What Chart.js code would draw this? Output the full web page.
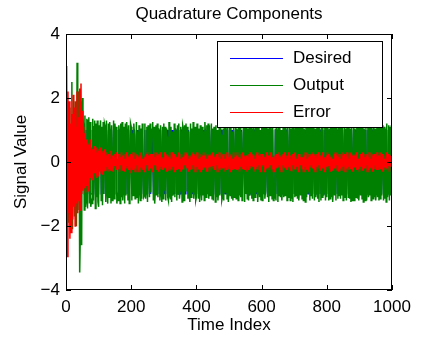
<!DOCTYPE html>
<html lang="en">
<head>
    <meta charset="UTF-8">
    <title>Quadrature Components</title>
    <script src="https://cdn.jsdelivr.net/npm/chart.js"></script>
    <style>
        html, body { margin: 0; padding: 0; background: #fff; }
        canvas { display: block; }
    </style>
</head>
<body>
    <canvas id="quadChart" width="426" height="340"></canvas>
    <script>
        // one sample every 2 time steps
        const step = 2;

        // desired symbols (+1 / -1), 20 per group
        const desiredSigns = [
            '+-++-+---+-++-+--+-+', '+--+-+++-+--+-++-+--', '-+-++-+-+--+++-+-+-+', '+-+--+-++-+--+-+++--', '-++-+-+--+-+-++-+--+',
            '+-+-++--+-+-+--+-++-', '-+--+-++-+-+++-+--+-', '+-++-+--+-+-+-++--+-', '-+-+--+-++-+-+--++-+', '+-+-+++-+--+-+-+--+-',
            '-++-+-+--+-+-++-+-+-', '+--+-+-++-+-+--+-++-', '-+-+-++-+--+-+-+-+--', '+-++-+-+-+--++-+-+-+', '-+--+-+-++-+-+--+-+-',
            '+-+-+--++-+-+-++-+--', '-+-++-+-+-+--+-+-++-', '+--+-+-+-++-+-+-+--+', '-+-+-++-+-+--+-+-+-+', '+-+--+-+-++-+-+--+-+',
            '-++-+-+-+--+-+-++-+-', '+-+-+--+-+-++-+-+-+-', '-+-++-+-+--+-+-+-++-', '+--+-+-+-++-+-+--+-+', '-+-+-++-+-+-+--+-+-+'
        ].join('');

        const outputValues = [
            0.4, -1.2, 1.5, 0.6, -1.9, 1.7, -0.8, -1.6, -1.1, 2.5, -2.1, 1.3, 0.7, -1.7, 1.9, -1.4, -2.0, 3.1, -1.5, 2.2,
            1.6, -3.45, -2.2, 1.9, -2.6, 2.0, 1.4, 1.1, -1.5, 1.45, -1.4, -1.2, 1.35, -1.45, 1.3, 1.4, -1.3, 1.25, -1.4, -1.2,
            -1.3, 1.35, -1.2, 1.1, 1.3, -1.45, 1.2, -1.1, 1.3, -1.25, -1.4, 1.15, 0.9, 1.3, -1.2, 1.1, -1.35, 1.25, -1.0, 1.2,
            1.1, -1.25, 1.3, -0.9, -1.3, 1.2, -1.1, 1.25, 0.85, -1.3, 1.15, -1.2, -0.9, 1.3, -1.15, 1.2, 0.9, 1.1, -1.3, -1.05,
            -1.2, 1.15, 0.9, -1.3, 1.2, -1.1, 1.25, -1.2, -0.85, 1.1, -1.3, 1.2, -1.05, 1.25, 0.9, -1.2, 1.15, -1.3, -0.9, 1.2,
            1.1, -1.2, 0.9, -1.05, 1.2, 0.85, -1.15, -0.9, 1.25, -1.1, 0.95, -1.3, 1.15, -0.9, -1.2, 1.05, -1.15, 1.2, 0.85, -1.1,
            -1.05, 1.2, -1.15, -0.85, 1.1, -1.25, 1.15, 0.9, -1.1, 1.2, -0.95, 1.05, 0.8, 1.25, -1.2, 1.1, -1.3, -0.9, 1.15, -1.05,
            1.2, -1.1, 1.05, 0.85, -1.2, 1.15, -0.95, -1.25, 1.1, -1.15, 1.2, -0.9, 1.1, -1.2, 1.05, 0.8, -1.1, -1.2, 1.25, -1.05,
            -1.15, 1.1, -1.25, 0.95, -1.05, -0.85, 1.2, -1.1, 1.05, 0.9, -1.2, 1.15, -1.0, 1.2, -1.15, -0.9, 1.1, 0.85, -1.25, 1.15,
            1.05, -1.2, 1.15, -0.9, 1.2, 0.85, 1.1, -1.15, 0.95, -1.05, -1.25, 1.2, -1.1, 1.05, -0.95, 1.25, -1.15, -0.85, 1.1, -1.2,
            -1.1, 1.2, 0.9, -1.15, 1.05, -1.25, 1.15, -0.9, -1.2, 1.1, -1.05, 0.95, -1.2, 1.25, 0.85, -1.1, 1.15, -1.0, 1.2, -1.15,
            1.15, -1.05, -0.85, 1.2, -1.15, 1.05, -1.2, 1.1, 0.9, -1.25, 1.15, -1.1, 1.0, -1.2, -0.9, 1.25, -1.05, 1.1, 0.85, -1.2,
            -1.1, 1.05, -1.2, 1.15, -0.95, 1.2, 0.85, -1.15, 1.1, -1.25, -0.9, 1.2, -1.05, 1.1, -1.15, 0.95, -1.2, 1.15, -1.1, -0.85,
            1.2, -1.15, 1.05, 0.9, -1.2, 1.1, -1.05, 1.25, -1.1, 0.95, -1.2, -0.85, 1.15, 0.9, -1.25, 1.1, -1.0, 1.2, -1.15, 1.05,
            -1.2, 1.1, -1.05, -0.9, 1.25, -1.15, 1.05, -1.2, 1.15, 0.85, -1.1, 1.2, -0.95, 1.1, -1.25, -0.85, 1.15, -1.1, 1.0, -1.2,
            1.1, -1.2, 1.15, -1.0, 1.2, -1.15, -0.9, 1.25, 0.85, -1.1, 1.05, -1.25, 1.15, -1.05, 1.2, 0.9, -1.15, 1.1, -1.2, -0.9,
            -1.15, 1.05, -1.2, 1.1, 0.9, -1.25, 1.15, -1.05, 1.2, -1.1, 1.0, -1.2, -0.85, 1.15, -1.1, 1.25, -1.05, 1.1, 0.85, -1.2,
            1.2, -1.1, -0.9, 1.15, -1.2, 1.05, -1.15, 1.1, -1.25, 1.2, 0.85, -1.1, 1.15, -1.05, 1.2, -1.15, 1.1, -1.2, -0.9, 1.15,
            -1.05, 1.2, -1.15, 1.1, -1.2, 1.05, 0.9, -1.25, 1.15, -1.1, 1.2, -1.0, -0.85, 1.1, -1.2, 1.15, -1.05, 1.25, -1.15, 1.1,
            1.15, -1.2, 1.05, -1.1, -0.9, 1.2, -1.15, 1.1, -1.25, 1.05, 0.85, -1.2, 1.15, -1.1, 1.2, -1.05, -0.9, 1.1, -1.2, 1.15,
            -1.1, 1.15, 0.9, -1.2, 1.05, -1.15, 1.2, -1.1, 1.1, -1.25, -0.85, 1.2, -1.05, 1.15, -1.2, 1.1, 0.85, -1.15, 1.2, -1.05,
            1.2, -1.15, 1.1, -1.05, 1.15, -1.2, -0.9, 1.25, -1.1, 1.05, -1.2, 1.15, 0.9, -1.1, 1.2, -1.15, 1.05, -1.25, 1.1, -1.2,
            -1.15, 1.1, -1.2, 1.05, 0.85, -1.1, 1.2, -1.15, 1.1, -1.2, -0.9, 1.15, -1.05, 1.2, -1.15, 1.1, -1.25, 1.05, 0.9, -1.2,
            1.1, -1.2, -0.85, 1.15, -1.1, 1.2, -1.05, 1.15, -1.2, 1.1, 0.9, -1.15, 1.2, -1.1, 1.05, -1.2, -0.9, 1.15, -1.1, 1.2,
            -1.2, 1.1, -1.15, 1.2, -1.05, 1.15, 0.85, -1.2, 1.1, -1.15, 1.05, -1.25, 1.2, -1.1, -0.9, 1.15, -1.2, 1.1, -1.05, 1.15
        ];

        const errorValues = [
            0.4, 3.0, -2.95, 2.2, -1.6, 1.9, -2.4, 1.2, -2.2, 1.5, -1.8, 2.1, -1.4, 1.7, -2.0, 1.1, -1.3, 2.2, -1.6, 1.4,
            -1.2, 2.3, -1.5, 2.45, -1.0, 1.6, -0.9, 1.1, -0.8, 0.9, -0.95, 0.7, -0.75, 0.6, -0.9, 0.55, -0.6, 0.7, -0.5, 0.45,
            -0.55, 0.4, -0.45, 0.5, -0.35, 0.45, -0.5, 0.3, -0.4, 0.35, -0.45, 0.4, -0.3, 0.45, -0.35, 0.3, -0.4, 0.35, -0.3, 0.4,
            -0.25, 0.3, -0.15, 0.2, -0.3, 0.25, -0.2, 0.1, -0.25, 0.35, -0.15, 0.2, -0.3, 0.15, -0.1, 0.25, -0.2, 0.3, -0.25, 0.1,
            -0.2, 0.25, -0.3, 0.15, -0.1, 0.3, -0.25, 0.2, -0.15, 0.1, -0.3, 0.25, -0.2, 0.3, -0.1, 0.15, -0.25, 0.2, -0.35, 0.25,
            -0.15, 0.2, -0.25, 0.3, -0.2, 0.1, -0.3, 0.25, -0.1, 0.2, -0.25, 0.15, -0.3, 0.2, -0.15, 0.3, -0.2, 0.1, -0.25, 0.2,
            -0.3, 0.15, -0.2, 0.25, -0.1, 0.3, -0.25, 0.2, -0.15, 0.25, -0.2, 0.1, -0.3, 0.25, -0.2, 0.15, -0.1, 0.3, -0.25, 0.2,
            -0.1, 0.25, -0.3, 0.2, -0.15, 0.3, -0.2, 0.15, -0.25, 0.1, -0.2, 0.3, -0.15, 0.25, -0.3, 0.2, -0.1, 0.15, -0.25, 0.3,
            -0.2, 0.1, -0.25, 0.3, -0.15, 0.2, -0.3, 0.25, -0.1, 0.15, -0.25, 0.2, -0.2, 0.3, -0.15, 0.1, -0.3, 0.25, -0.2, 0.15,
            -0.25, 0.2, -0.1, 0.3, -0.2, 0.25, -0.15, 0.1, -0.3, 0.2, -0.25, 0.15, -0.2, 0.3, -0.1, 0.25, -0.15, 0.2, -0.3, 0.1,
            -0.15, 0.3, -0.25, 0.1, -0.2, 0.25, -0.3, 0.15, -0.1, 0.2, -0.25, 0.3, -0.15, 0.2, -0.2, 0.1, -0.3, 0.25, -0.15, 0.2,
            -0.3, 0.2, -0.15, 0.25, -0.1, 0.3, -0.2, 0.15, -0.25, 0.2, -0.1, 0.25, -0.3, 0.15, -0.2, 0.3, -0.25, 0.1, -0.15, 0.2,
            -0.2, 0.25, -0.3, 0.1, -0.15, 0.2, -0.25, 0.3, -0.1, 0.15, -0.2, 0.25, -0.3, 0.2, -0.15, 0.1, -0.25, 0.3, -0.2, 0.15,
            -0.1, 0.2, -0.25, 0.3, -0.2, 0.15, -0.3, 0.1, -0.15, 0.25, -0.2, 0.3, -0.1, 0.2, -0.25, 0.15, -0.3, 0.2, -0.1, 0.25,
            -0.25, 0.15, -0.2, 0.3, -0.1, 0.25, -0.15, 0.2, -0.3, 0.1, -0.2, 0.25, -0.15, 0.3, -0.25, 0.2, -0.1, 0.15, -0.3, 0.25,
            -0.15, 0.25, -0.1, 0.2, -0.3, 0.15, -0.25, 0.3, -0.2, 0.1, -0.15, 0.2, -0.25, 0.3, -0.1, 0.25, -0.2, 0.15, -0.3, 0.2,
            -0.3, 0.1, -0.2, 0.25, -0.15, 0.3, -0.1, 0.2, -0.25, 0.15, -0.3, 0.2, -0.1, 0.25, -0.2, 0.3, -0.15, 0.1, -0.25, 0.2,
            -0.2, 0.3, -0.15, 0.1, -0.25, 0.2, -0.3, 0.25, -0.1, 0.15, -0.2, 0.3, -0.25, 0.1, -0.15, 0.2, -0.3, 0.25, -0.2, 0.15,
            -0.1, 0.25, -0.2, 0.15, -0.3, 0.2, -0.15, 0.3, -0.25, 0.1, -0.2, 0.15, -0.3, 0.25, -0.1, 0.2, -0.15, 0.3, -0.2, 0.25,
            -0.25, 0.2, -0.3, 0.1, -0.15, 0.25, -0.2, 0.3, -0.1, 0.15, -0.25, 0.2, -0.15, 0.3, -0.2, 0.1, -0.3, 0.15, -0.25, 0.2,
            -0.15, 0.3, -0.1, 0.25, -0.2, 0.15, -0.3, 0.2, -0.25, 0.1, -0.15, 0.25, -0.2, 0.3, -0.1, 0.2, -0.25, 0.15, -0.3, 0.25,
            -0.2, 0.1, -0.25, 0.3, -0.15, 0.2, -0.1, 0.25, -0.3, 0.15, -0.2, 0.3, -0.25, 0.1, -0.15, 0.25, -0.2, 0.3, -0.1, 0.2,
            -0.3, 0.25, -0.15, 0.2, -0.1, 0.3, -0.25, 0.15, -0.2, 0.1, -0.3, 0.25, -0.15, 0.2, -0.25, 0.3, -0.1, 0.15, -0.2, 0.25,
            -0.1, 0.2, -0.3, 0.15, -0.25, 0.3, -0.2, 0.1, -0.15, 0.25, -0.3, 0.2, -0.1, 0.25, -0.2, 0.15, -0.25, 0.3, -0.15, 0.2,
            -0.25, 0.15, -0.2, 0.3, -0.1, 0.25, -0.3, 0.2, -0.15, 0.1, -0.25, 0.3, -0.2, 0.15, -0.1, 0.25, -0.3, 0.2, -0.15, 0.1
        ];

        const xTicks = [0, 200, 400, 600, 800, 1000];
        const yTicks = [-4, -2, 0, 2, 4];
        const seriesNames = ['Desired', 'Output', 'Error'];
        const seriesColors = ['#0000ff', '#008000', '#ff0000'];

        const FONT = 'Liberation Sans, Arial, Helvetica, sans-serif';

        const desired = desiredSigns.split('').map(c => c === '+' ? 1 : -1);
        const toPoints = arr => arr.map((v, i) => ({ x: i * step, y: v }));

        // frame, inward ticks, title and legend box
        const matlabFrame = {
            id: 'matlabFrame',
            afterDraw(chart) {
                const ctx = chart.ctx;
                const a = chart.chartArea;
                const xs = chart.scales.x, ys = chart.scales.y;
                ctx.save();
                ctx.strokeStyle = '#000';
                ctx.lineWidth = 1;
                ctx.strokeRect(Math.round(a.left) + 0.5, Math.round(a.top) + 0.5,
                    Math.round(a.right - a.left) - 1, Math.round(a.bottom - a.top) - 1);

                ctx.beginPath();
                xTicks.forEach(t => {
                    const px = Math.round(xs.getPixelForValue(t)) + 0.5;
                    ctx.moveTo(px, a.bottom); ctx.lineTo(px, a.bottom - 5);
                    ctx.moveTo(px, a.top); ctx.lineTo(px, a.top + 5);
                });
                yTicks.forEach(t => {
                    const py = Math.round(ys.getPixelForValue(t)) + 0.5;
                    ctx.moveTo(a.left, py); ctx.lineTo(a.left + 5, py);
                    ctx.moveTo(a.right, py); ctx.lineTo(a.right - 5, py);
                });
                ctx.stroke();

                // title
                ctx.fillStyle = '#000';
                ctx.font = '17px ' + FONT;
                ctx.textAlign = 'center';
                ctx.textBaseline = 'middle';
                ctx.fillText('Quadrature Components', (a.left + a.right) / 2, 14);

                // legend
                const lx = 217, ly = 41, lw = 165, lh = 86;
                ctx.fillStyle = '#fff';
                ctx.fillRect(lx, ly, lw, lh);
                ctx.strokeStyle = '#000';
                ctx.strokeRect(lx + 0.5, ly + 0.5, lw, lh);
                ctx.textAlign = 'left';
                seriesNames.forEach((name, i) => {
                    const y = 58 + i * 27;
                    ctx.strokeStyle = seriesColors[i];
                    ctx.beginPath();
                    ctx.moveTo(230, y + 0.5);
                    ctx.lineTo(283, y + 0.5);
                    ctx.stroke();
                    ctx.fillStyle = '#000';
                    ctx.fillText(name, 293, y);
                });
                ctx.restore();
            }
        };

        new Chart(document.getElementById('quadChart'), {
            type: 'line',
            data: {
                datasets: [
                    { label: seriesNames[0], data: toPoints(desired), borderColor: seriesColors[0], borderWidth: 1.2, order: 3 },
                    { label: seriesNames[1], data: toPoints(outputValues), borderColor: seriesColors[1], borderWidth: 1.5, order: 2 },
                    { label: seriesNames[2], data: toPoints(errorValues), borderColor: seriesColors[2], borderWidth: 1.5, order: 1 }
                ]
            },
            options: {
                responsive: false,
                animation: false,
                devicePixelRatio: 1,
                layout: { padding: { top: 34, right: 34, left: 0, bottom: 0 } },
                elements: {
                    point: { radius: 0 },
                    line: { tension: 0 }
                },
                plugins: {
                    legend: { display: false },
                    tooltip: { enabled: false }
                },
                scales: {
                    x: {
                        type: 'linear',
                        min: 0,
                        max: 1000,
                        afterFit: s => { s.height = 50; },
                        afterBuildTicks: s => { s.ticks = xTicks.map(v => ({ value: v })); },
                        grid: { display: false, drawTicks: false },
                        border: { display: false },
                        ticks: {
                            padding: 7, color: '#000', font: { family: FONT, size: 17 }, maxRotation: 0,
                            callback: v => String(v)
                        },
                        title: { display: true, text: 'Time Index', color: '#000', font: { family: FONT, size: 17 }, padding: { top: 0, bottom: 4 } }
                    },
                    y: {
                        min: -4,
                        max: 4,
                        afterFit: s => { s.width = 66; },
                        afterBuildTicks: s => { s.ticks = yTicks.map(v => ({ value: v })); },
                        grid: { display: false, drawTicks: false },
                        border: { display: false },
                        ticks: {
                            padding: 6, color: '#000', font: { family: FONT, size: 17 },
                            callback: v => v < 0 ? '\u2212' + Math.abs(v) : String(v)
                        },
                        title: { display: true, text: 'Signal Value', color: '#000', font: { family: FONT, size: 17 }, padding: { top: 11, bottom: 0 } }
                    }
                }
            },
            plugins: [matlabFrame]
        });
    </script>
</body>
</html>
